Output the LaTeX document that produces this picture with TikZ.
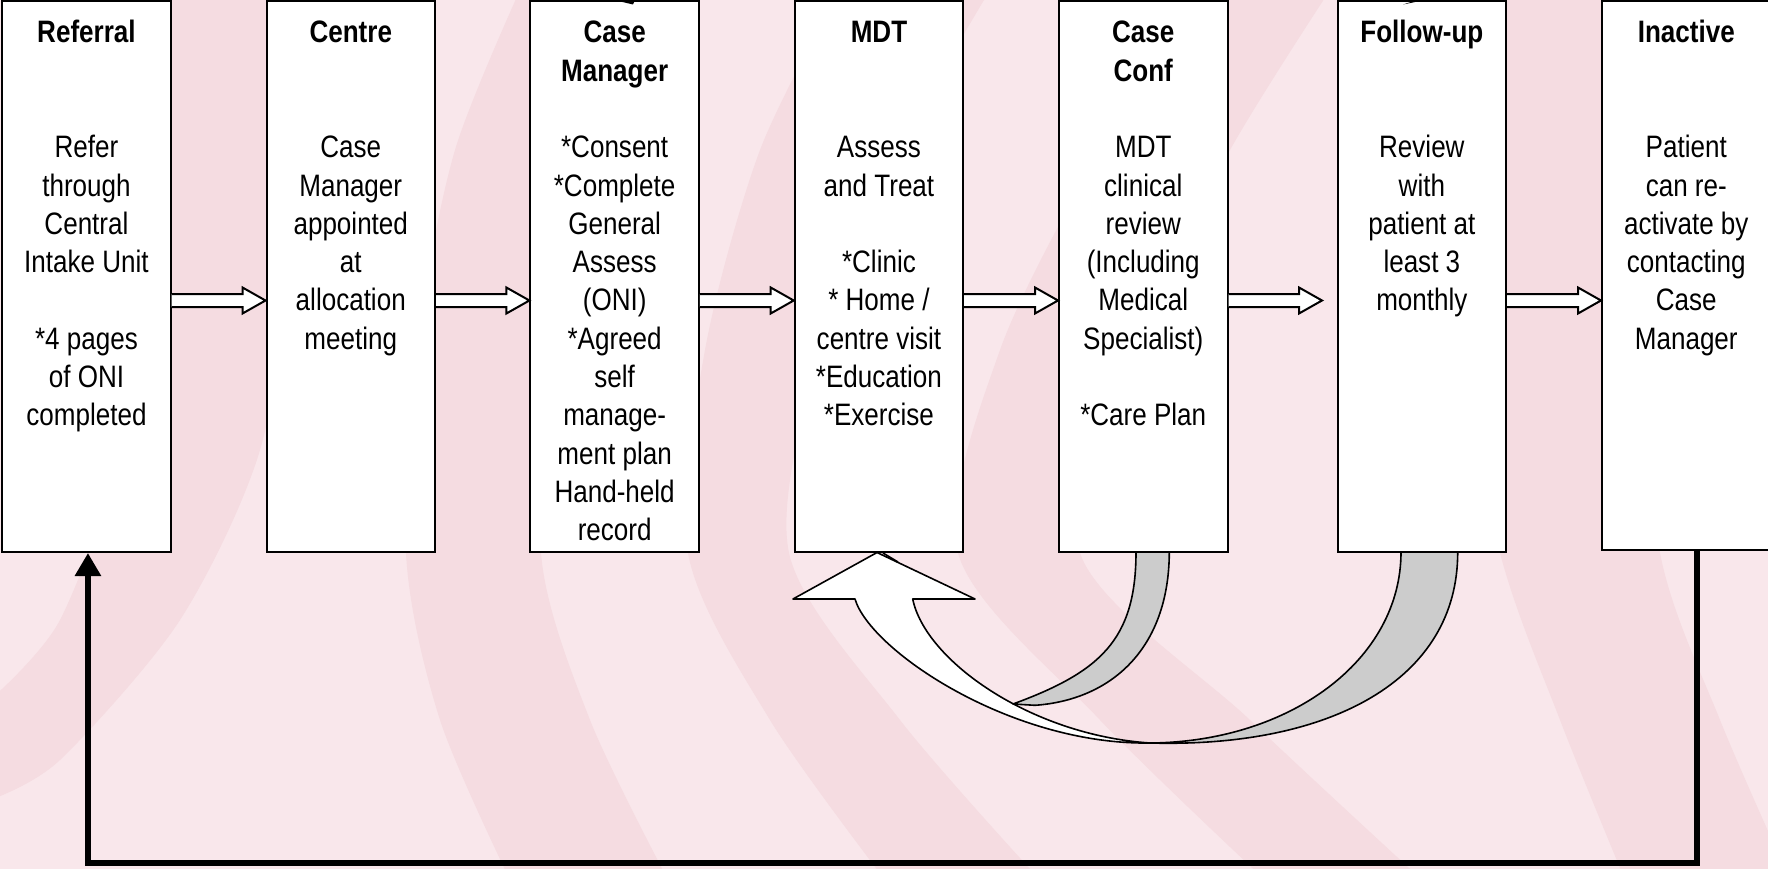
\documentclass[tikz,border=0pt]{standalone}
\usepackage{fontspec}
\setmainfont{Liberation Sans}[FakeStretch=0.84]
\usetikzlibrary{arrows.meta,calc}
\definecolor{bglight}{HTML}{F9E7EB}
\definecolor{bgdark}{HTML}{F5DCE1}
\definecolor{ribbon}{HTML}{CCCCCC}
\newcommand{\ls}{\strut}
\newcommand{\barrow}[2]{%
  \path[draw=black, line width=2pt, fill=white, line join=miter]
    let \p1=([yshift=-24pt]#1), \p2=(#2) in
    (\x1,\y1+6.5pt) -- (\x2-23pt,\y1+6.5pt) -- (\x2-23pt,\y1+13pt) -- (\x2,\y1)
    -- (\x2-23pt,\y1-13pt) -- (\x2-23pt,\y1-6.5pt) -- (\x1,\y1-6.5pt);}
\begin{document}
\begin{tikzpicture}[x=1pt,y=-1pt,
  box/.style={draw=black, line width=2pt, fill=white, minimum width=168.5pt, inner sep=0pt},
  txt/.style={anchor=north, align=center, inner sep=0pt, font=\fontsize{31}{38.3}\selectfont},
  curv/.style={draw=black, line width=1.6pt, line join=round},
  fb/.style={draw=black, line width=6pt, line join=miter, -{Triangle[length=23pt,width=25pt]}}]
\useasboundingbox (0,0) rectangle (1768,869);
% background
\fill[bglight] (0,0) rectangle (1768,869);
\begin{scope}
\clip (0,0) rectangle (1768,869);
\fill[bgdark] plot[smooth] coordinates {(130,-10) (140,250) (120,450) (60,620) (-10,700)}
  -- plot[smooth] coordinates {(-10,800) (60,760) (180,620) (260,450) (290,250) (300,-10)} -- cycle;
\fill[bgdark] plot[smooth] coordinates {(520,-10) (455,150) (420,330) (406,553) (440,720) (510,880)}
  -- plot[smooth] coordinates {(668,880) (590,720) (541,553) (560,330) (610,150) (700,-10)} -- cycle;
\fill[bgdark] plot[smooth] coordinates {(840,-10) (760,150) (705,350) (688,553) (770,720) (885,880)}
  -- plot[smooth] coordinates {(1040,880) (900,720) (789,553) (820,350) (900,150) (990,-10)} -- cycle;
\fill[bgdark] plot[smooth] coordinates {(1200,-10) (1100,150) (1000,350) (958,553) (1100,720) (1265,880)}
  -- plot[smooth] coordinates {(1422,880) (1250,720) (1080,553) (1130,350) (1230,150) (1330,-10)} -- cycle;
\fill[bgdark] plot[smooth] coordinates {(1500,-10) (1450,300) (1500,553) (1560,720) (1625,880)}
  -- plot[smooth] coordinates {(1790,880) (1720,720) (1660,553) (1640,300) (1700,-10)} -- cycle;
\end{scope}
% boxes
\node[box, minimum height=551pt] (referral) at (86.45,276.5) {};
\node[box, minimum height=551pt] (centre) at (350.75,276.5) {};
\node[box, minimum height=551pt] (casemgr) at (614.65,276.5) {};
\node[box, minimum height=551pt] (mdt) at (878.95,276.5) {};
\node[box, minimum height=551pt] (caseconf) at (1143.25,276.5) {};
\node[box, minimum height=551pt] (followup) at (1421.85,276.5) {};
\node[box, minimum height=549pt] (inactive) at (1686.25,275.5) {};
% texts
\node[txt] (referral-t) at ([yshift=-15.8pt]referral.north) {\ls\textbf{Referral}\\\ls\\\ls\\\ls Refer\\\ls through\\\ls Central\\\ls Intake Unit\\\ls\\\ls *4 pages\\\ls of ONI\\\ls completed};
\node[txt] (centre-t) at ([yshift=-15.8pt]centre.north) {\ls\textbf{Centre}\\\ls\\\ls\\\ls Case\\\ls Manager\\\ls appointed\\\ls at\\\ls allocation\\\ls meeting};
\node[txt] (casemgr-t) at ([yshift=-15.8pt]casemgr.north) {\ls\textbf{Case}\\\ls\textbf{Manager}\\\ls\\\ls *Consent\\\ls *Complete\\\ls General\\\ls Assess\\\ls (ONI)\\\ls *Agreed\\\ls self\\\ls manage-\\\ls ment plan\\\ls Hand-held\\\ls record};
\node[txt] (mdt-t) at ([yshift=-15.8pt]mdt.north) {\ls\textbf{MDT}\\\ls\\\ls\\\ls Assess\\\ls and Treat\\\ls\\\ls *Clinic\\\ls * Home /\\\ls centre visit\\\ls *Education\\\ls *Exercise};
\node[txt] (caseconf-t) at ([yshift=-15.8pt]caseconf.north) {\ls\textbf{Case}\\\ls\textbf{Conf}\\\ls\\\ls MDT\\\ls clinical\\\ls review\\\ls (Including\\\ls Medical\\\ls Specialist)\\\ls\\\ls *Care Plan};
\node[txt] (followup-t) at ([yshift=-15.8pt]followup.north) {\ls\textbf{Follow-up}\\\ls\\\ls\\\ls Review\\\ls with\\\ls patient at\\\ls least 3\\\ls monthly};
\node[txt] (inactive-t) at ([yshift=-15.8pt]inactive.north) {\ls\textbf{Inactive}\\\ls\\\ls\\\ls Patient\\\ls can re-\\\ls activate by\\\ls contacting\\\ls Case\\\ls Manager};
% block arrows
\barrow{referral.east}{centre.west}
\barrow{centre.east}{casemgr.west}
\barrow{casemgr.east}{mdt.west}
\barrow{mdt.east}{caseconf.west}
\barrow{caseconf.east}{[xshift=-14.6pt]followup.west}
\barrow{followup.east}{inactive.west}
% small marks at the top
\fill[black] (614,0) -- (633,4.5) -- (635,0) -- cycle;
\fill[black] (1403,4.5) -- (1417,0) -- (1425,0) -- cycle;
% curved return arrow
\filldraw[curv, fill=white] (877,552.5) -- (975,599) -- (912.7,599)
  .. controls (925,660) and (1030,735) .. (1150,743)
  .. controls (1010,745) and (870,650) .. (855,599) -- (793,599) -- cycle;
\draw[curv] (883,553) -- (898,562);
\filldraw[curv, fill=ribbon] (1136,552) .. controls (1136,640) and (1100,672) .. (1013,704)
  -- (1035,705.3) .. controls (1110,700) and (1169,650) .. (1169.3,552) -- cycle;
\filldraw[curv, fill=ribbon] (1401,552) .. controls (1401,660) and (1290,742) .. (1150,743)
  .. controls (1330,748) and (1458,680) .. (1457.7,552) -- cycle;
% feedback loop
\coordinate (fbot) at (0,863);
\coordinate (fbA) at ([xshift=10.75pt]inactive.south);
\coordinate (fbB) at ([xshift=1.5pt]referral.south);
\draw[fb] (fbA) -- (fbA |- fbot) -| (fbB);
\end{tikzpicture}
\end{document}
